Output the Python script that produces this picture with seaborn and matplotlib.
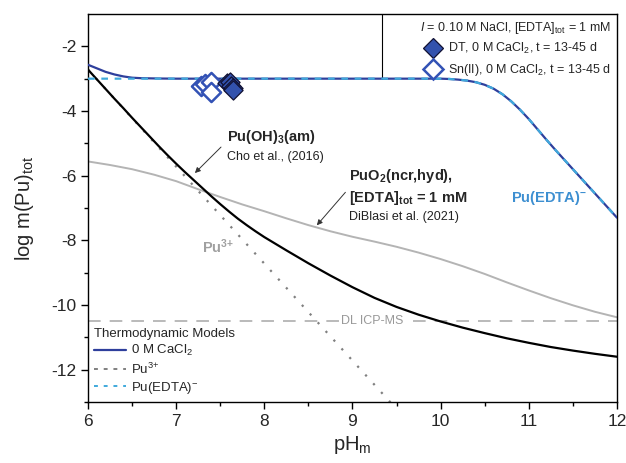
import matplotlib
matplotlib.use("Agg")
import matplotlib.pyplot as plt
import seaborn as sns
import numpy as np
import pandas as pd
from matplotlib.lines import Line2D

# ---------------- data ----------------
ph_total = [6.0, 6.1, 6.2, 6.3, 6.4, 6.5, 6.6, 6.8, 7.0, 8.0, 9.0, 10.0, 10.1, 10.2, 10.3,
            10.4, 10.5, 10.6, 10.7, 10.8, 10.9, 11.0, 11.1, 11.2, 11.3, 11.4, 11.5,
            11.6, 11.7, 11.8, 11.9, 12.0]
logm_total = [-2.57, -2.68, -2.79, -2.87, -2.93, -2.97, -2.985, -2.995, -3.0, -3.0, -3.0,
              -3.0, -3.01, -3.03, -3.06, -3.11, -3.19, -3.31, -3.48, -3.70, -3.96, -4.25,
              -4.57, -4.89, -5.20, -5.50, -5.80, -6.10, -6.40, -6.70, -7.00, -7.30]
logm_puedta = [-3.0, -3.0, -3.0, -3.0, -3.0, -3.0, -3.0, -3.0, -3.0, -3.0, -3.0,
               -3.0, -3.01, -3.03, -3.06, -3.11, -3.19, -3.31, -3.48, -3.70, -3.96, -4.25,
               -4.57, -4.89, -5.20, -5.50, -5.80, -6.10, -6.40, -6.70, -7.00, -7.30]

ph_pu3 = [6.0, 7.0, 8.0, 9.0, 9.45]
logm_pu3 = [-2.72, -5.72, -8.72, -11.72, -13.07]

ph_oh3 = [6.0, 6.1, 6.2, 6.3, 6.4, 6.5, 6.6, 6.7, 6.8, 6.9, 7.0, 7.1, 7.2, 7.3, 7.4,
          7.5, 7.6, 7.7, 7.8, 7.9, 8.0, 8.25, 8.5, 8.75, 9.0, 9.25, 9.5, 9.75, 10.0,
          10.25, 10.5, 10.75, 11.0, 11.25, 11.5, 11.75, 12.0]
logm_oh3 = [-2.72, -3.02, -3.32, -3.62, -3.91, -4.21, -4.50, -4.79, -5.08, -5.36,
            -5.63, -5.89, -6.14, -6.39, -6.64, -6.88, -7.11, -7.33, -7.53, -7.72,
            -7.90, -8.31, -8.71, -9.09, -9.45, -9.78, -10.06, -10.30, -10.51,
            -10.70, -10.87, -11.03, -11.17, -11.30, -11.41, -11.51, -11.60]

ph_puo2 = [6.0, 6.25, 6.5, 6.75, 7.0, 7.25, 7.5, 7.75, 8.0, 8.25, 8.5, 8.75, 9.0,
           9.25, 9.5, 9.75, 10.0, 10.25, 10.5, 10.75, 11.0, 11.25, 11.5, 11.75, 12.0]
logm_puo2 = [-5.56, -5.67, -5.80, -5.97, -6.17, -6.42, -6.66, -6.89, -7.10, -7.32,
             -7.53, -7.72, -7.89, -8.04, -8.20, -8.38, -8.58, -8.80, -9.04, -9.30,
             -9.55, -9.79, -10.01, -10.21, -10.38]

dl_icpms = -10.48

ph_dt = [7.58, 7.61, 7.62, 7.64, 7.65]
logm_dt = [-3.14, -3.10, -3.22, -3.30, -3.36]
ph_sn = [7.28, 7.33, 7.40, 7.40]
logm_sn = [-3.24, -3.18, -3.10, -3.40]

xticks = [6, 7, 8, 9, 10, 11, 12]
yticks = [-2, -4, -6, -8, -10, -12]

# ---------------- style ----------------
sns.set_style("ticks")
plt.rcParams['font.family'] = ['Liberation Sans', 'DejaVu Sans']
plt.rcParams['mathtext.fontset'] = 'custom'
plt.rcParams['mathtext.rm'] = 'Liberation Sans'
plt.rcParams['mathtext.it'] = 'Liberation Sans:italic'
plt.rcParams['mathtext.bf'] = 'Liberation Sans:bold'
plt.rcParams['axes.unicode_minus'] = False

BLUE = '#2e3f9c'
CYAN = '#3fa9dc'
LBLUE = '#3d8fd1'
GRAY = '#b4b4b4'
DGRAY = '#808080'

fig = plt.figure(figsize=(6.26, 4.63), dpi=100)
ax = fig.add_axes([88/626, 1-402/463, 529/626, 388/463])

# left edge of the top-right legend box
ax.axvline(6 + 0.556 * 6, ymin=0.8333, ymax=1.0, color='black', lw=0.8, zorder=0.5)

# DL line
ax.axhline(dl_icpms, color=GRAY, lw=1.3, linestyle=(0, (7, 5)), zorder=1)
ax.text(9.22, dl_icpms, 'DL ICP-MS', color='#999999', fontsize=9, ha='center', va='center',
        bbox=dict(facecolor='white', edgecolor='none', pad=1.5), zorder=1.5)

sns.lineplot(x=ph_puo2, y=logm_puo2, ax=ax, color=GRAY, lw=1.4, zorder=2)
sns.lineplot(x=ph_pu3, y=logm_pu3, ax=ax, color=DGRAY, lw=1.6, linestyle=(0, (1, 4.3)), zorder=2)
sns.lineplot(x=ph_oh3, y=logm_oh3, ax=ax, color='black', lw=1.6, zorder=3)
sns.lineplot(x=ph_total, y=logm_total, ax=ax, color=BLUE, lw=1.6, zorder=3)
sns.lineplot(x=ph_total, y=logm_puedta, ax=ax, color=CYAN, lw=1.6, linestyle=(0, (3, 3)), zorder=3.5)

sns.scatterplot(x=ph_sn, y=logm_sn, ax=ax, marker='D', s=95, facecolor='white',
                edgecolor='#3352b5', linewidth=1.8, zorder=4)
sns.scatterplot(x=ph_dt, y=logm_dt, ax=ax, marker='D', s=95, color='#3352ad',
                edgecolor='#111133', linewidth=0.9, zorder=5)

# annotations
ax.text(7.573, -4.81, r'Pu(OH)$_\mathbf{3}$(am)', fontsize=10.5, fontweight='bold',
        ha='left', va='center')
ax.text(7.573, -5.43, 'Cho et al., (2016)', fontsize=9, ha='left', va='center', color='#222222')
ax.annotate('', xy=(7.19, -5.98), xytext=(7.531, -5.055),
            arrowprops=dict(arrowstyle='-|>', lw=0.7, color='#333333', mutation_scale=8))
ax.text(8.96, -6.01, r'PuO$_\mathbf{2}$(ncr,hyd),', fontsize=10.5, fontweight='bold',
        ha='left', va='center')
ax.text(8.96, -6.69, r'[EDTA]$_\mathbf{tot}$ = 1 mM', fontsize=10.5, fontweight='bold',
        ha='left', va='center')
ax.text(8.96, -7.27, 'DiBlasi et al. (2021)', fontsize=9, ha='left', va='center', color='#222222')
ax.annotate('', xy=(8.575, -7.60), xytext=(8.94, -6.45),
            arrowprops=dict(arrowstyle='-|>', lw=0.7, color='#333333', mutation_scale=8))
ax.text(7.29, -8.20, r'Pu$^{\mathbf{3\!+}}$', fontsize=10.5, fontweight='bold',
        ha='left', va='center', color='#a0a0a0')
ax.text(10.80, -6.69, r'Pu(EDTA)$^{\mathbf{-}}$', fontsize=10.5, fontweight='bold',
        ha='left', va='center', color=LBLUE)

# axes
ax.set_xlim(6, 12)
ax.set_ylim(-13, -1)
ax.set_xticks(xticks)
ax.set_yticks(yticks)
ax.set_xticks(np.arange(6.5, 12, 1.0), minor=True)
ax.set_yticks(np.arange(-13, -1, 2.0), minor=True)
ax.set_xticklabels([str(t) for t in xticks])
ax.set_yticklabels([str(t) for t in yticks])
ax.tick_params(axis='both', which='major', labelsize=12.5, direction='out', length=5, width=1, color='black')
ax.tick_params(axis='both', which='minor', direction='out', length=3, width=1, color='black')
for s in ax.spines.values():
    s.set_color('black')
    s.set_linewidth(1.0)
ax.set_xlabel(r'pH$_\mathrm{m}$', fontsize=14.5, labelpad=4)
ax.set_ylabel(r'log m(Pu)$_\mathrm{tot}$', fontsize=14.5, labelpad=11)

# bottom-left legend
h_models = [Line2D([], [], color=BLUE, lw=1.6),
            Line2D([], [], color=DGRAY, lw=1.4, linestyle=(0, (2, 3))),
            Line2D([], [], color=CYAN, lw=1.4, linestyle=(0, (2, 3)))]
l_models = [r'0 M CaCl$_2$', r'Pu$^{3\!+}$', r'Pu(EDTA)$^{-}$']
leg1 = ax.legend(h_models, l_models, title='Thermodynamic Models', loc='lower left',
                 bbox_to_anchor=(0.0, 0.0), frameon=False, fontsize=9.5, title_fontsize=9.5,
                 handlelength=2.4, handletextpad=0.4, labelspacing=0.25, borderaxespad=0.2,
                 borderpad=0.25, alignment='left')
ax.add_artist(leg1)

# top-right legend
h_data = [Line2D([], [], marker='D', ls='none', markersize=10, markerfacecolor='#3352ad',
                 markeredgecolor='#111133', markeredgewidth=0.9),
          Line2D([], [], marker='D', ls='none', markersize=10, markerfacecolor='white',
                 markeredgecolor='#3352b5', markeredgewidth=1.8)]
l_data = [r'DT, 0 M CaCl$_2$, t = 13-45 d', r'Sn(II), 0 M CaCl$_2$, t = 13-45 d']
leg2 = ax.legend(h_data, l_data, title=r'$\mathit{I}$ = 0.10 M NaCl, [EDTA]$_\mathrm{tot}$ = 1 mM',
                 loc='upper right', bbox_to_anchor=(1.0, 1.0), frameon=False, fontsize=9,
                 title_fontsize=9, handlelength=1.2, handletextpad=0.6, labelspacing=0.45,
                 borderaxespad=0.2, borderpad=0.25, alignment='right')

fig.savefig('out.png', dpi=100)
